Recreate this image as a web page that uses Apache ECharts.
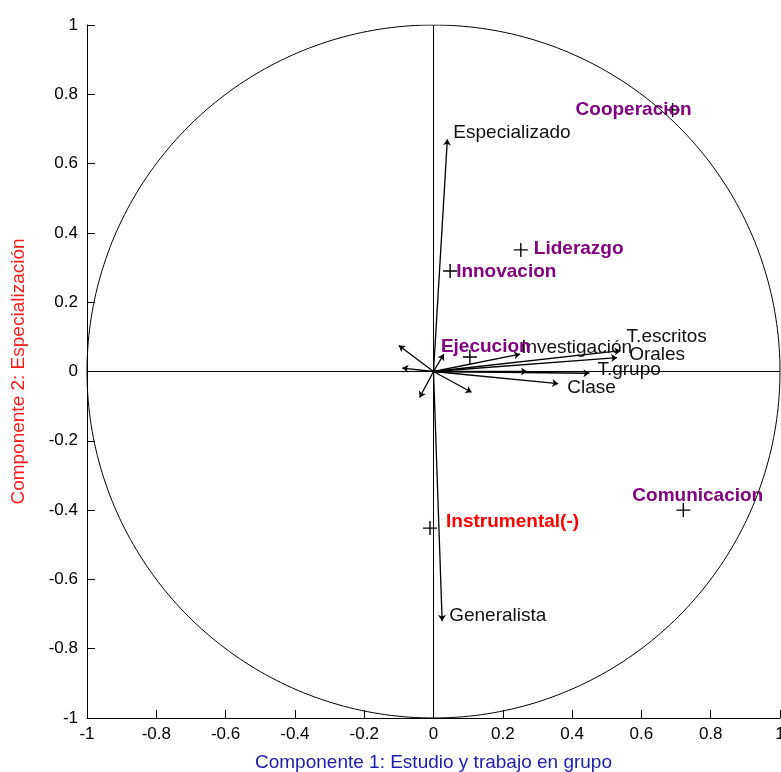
<!DOCTYPE html>
<html>
<head>
<meta charset="utf-8">
<script src="https://cdn.jsdelivr.net/npm/echarts@6/dist/echarts.min.js"></script>
<style>
  html, body { margin: 0; padding: 0; background: #fff; }
  #chart { width: 781px; height: 772px; }
</style>
</head>
<body>
<div id="chart"></div>
<script>
// variables (arrows from the origin)
const varNames = ['Especializado', 'Generalista', 'T.escritos', 'Orales', 'Investigación', 'T.grupo', 'Clase', '', '', '', '', '', '']
const varX = [0.04, 0.025, 0.54, 0.53, 0.25, 0.45, 0.36, 0.27, -0.10, -0.09, -0.04, 0.11, 0.03]
const varY = [0.67, -0.72, 0.06, 0.04, 0.05, -0.005, -0.035, 0.0, 0.075, 0.01, -0.075, -0.06, 0.05]

// factor points (+ markers)
const pointNames = ['Cooperacion', 'Liderazgo', 'Innovacion', 'Ejecucion', 'Comunicacion', 'Instrumental(-)']
const pointX = [0.69, 0.252, 0.048, 0.105, 0.721, -0.01]
const pointY = [0.755, 0.351, 0.29, 0.042, -0.40, -0.452]

// axis ticks
const axisMin = -1
const axisMax = 1
const axisStep = 0.2

var myChart = echarts.init(document.getElementById('chart'))

// label placement (px offsets from the point)
const varLabelOffset = {
  'Especializado': [6, -7],
  'Generalista': [7, -5],
  'T.escritos': [6, -14],
  'Orales': [12, -3],
  'Investigación': [1, -6],
  'T.grupo': [8, -3],
  'Clase': [9, 4]
}
const pointLabelOffset = {
  'Cooperacion': [-97, 0],
  'Liderazgo': [13, -1],
  'Innovacion': [6, 1],
  'Ejecucion': [-29, -10],
  'Comunicacion': [-51, -14],
  'Instrumental(-)': [16, -6]
}

// unit circle
var circle = []
for (var a = 0; a <= 360; a++) {
  var r = a * Math.PI / 180
  circle.push([Math.cos(r), Math.sin(r)])
}

var arrowData = varX.map(function (x, i) {
  return { coords: [[0, 0], [x, varY[i]]] }
})

var tipData = []
varX.forEach(function (x, i) {
  if (!varNames[i]) return
  tipData.push({
    name: varNames[i],
    value: [x, varY[i]],
    label: { offset: varLabelOffset[varNames[i]] }
  })
})

var pointData = pointX.map(function (x, i) {
  var name = pointNames[i]
  return {
    name: name,
    value: [x, pointY[i]],
    label: {
      offset: pointLabelOffset[name],
      color: name === 'Instrumental(-)' ? '#ff0000' : '#800080'
    }
  }
})

var axisCommon = {
  type: 'value',
  min: axisMin,
  max: axisMax,
  interval: axisStep,
  nameLocation: 'middle',
  axisLine: { onZero: false, lineStyle: { color: '#000', width: 1 } },
  axisTick: { inside: true, length: 8, lineStyle: { color: '#000' } },
  axisLabel: { color: '#000', fontSize: 17, fontFamily: 'Liberation Sans' },
  splitLine: { show: false }
}

var option = {
  animation: false,
  grid: { left: 87, top: 25, width: 693, height: 693, outerBoundsMode: 'none', containLabel: false },
  xAxis: Object.assign({}, axisCommon, {
    name: 'Componente 1: Estudio y trabajo en grupo',
    nameGap: 35,
    nameTextStyle: { color: '#1c1cb0', fontSize: 19, fontFamily: 'Liberation Sans' },
    axisLabel: Object.assign({}, axisCommon.axisLabel, { margin: 8 })
  }),
  yAxis: Object.assign({}, axisCommon, {
    name: 'Componente 2: Especialización',
    nameGap: 59,
    nameTextStyle: { color: '#ff1a1a', fontSize: 19, fontFamily: 'Liberation Sans' },
    axisLabel: Object.assign({}, axisCommon.axisLabel, { margin: 9 })
  }),
  series: [
    {
      type: 'line',
      data: circle,
      showSymbol: false,
      silent: true,
      lineStyle: { color: '#000', width: 1 },
      markLine: {
        silent: true,
        symbol: 'none',
        label: { show: false },
        lineStyle: { color: '#000', width: 1, type: 'solid' },
        data: [{ xAxis: 0 }, { yAxis: 0 }]
      }
    },
    {
      type: 'lines',
      coordinateSystem: 'cartesian2d',
      data: arrowData,
      symbol: ['none', 'arrow'],
      symbolSize: [0, 6],
      lineStyle: { color: '#000', width: 1.3, opacity: 1 }
    },
    {
      type: 'scatter',
      data: tipData,
      symbolSize: 0,
      itemStyle: { opacity: 1 },
      label: {
        show: true,
        position: 'inside',
        align: 'left',
        verticalAlign: 'middle',
        formatter: '{b}',
        color: '#111',
        fontSize: 19,
        fontFamily: 'Liberation Sans'
      }
    },
    {
      type: 'scatter',
      data: pointData,
      symbol: 'path://M0,4.5H10V5.5H0Z M4.5,0H5.5V10H4.5Z',
      symbolSize: 14,
      itemStyle: { color: '#000', opacity: 1 },
      label: {
        show: true,
        position: 'inside',
        align: 'left',
        verticalAlign: 'middle',
        formatter: '{b}',
        fontSize: 19,
        fontWeight: 'bold',
        fontFamily: 'Liberation Sans'
      }
    }
  ]
}

myChart.setOption(option)
</script>
</body>
</html>
